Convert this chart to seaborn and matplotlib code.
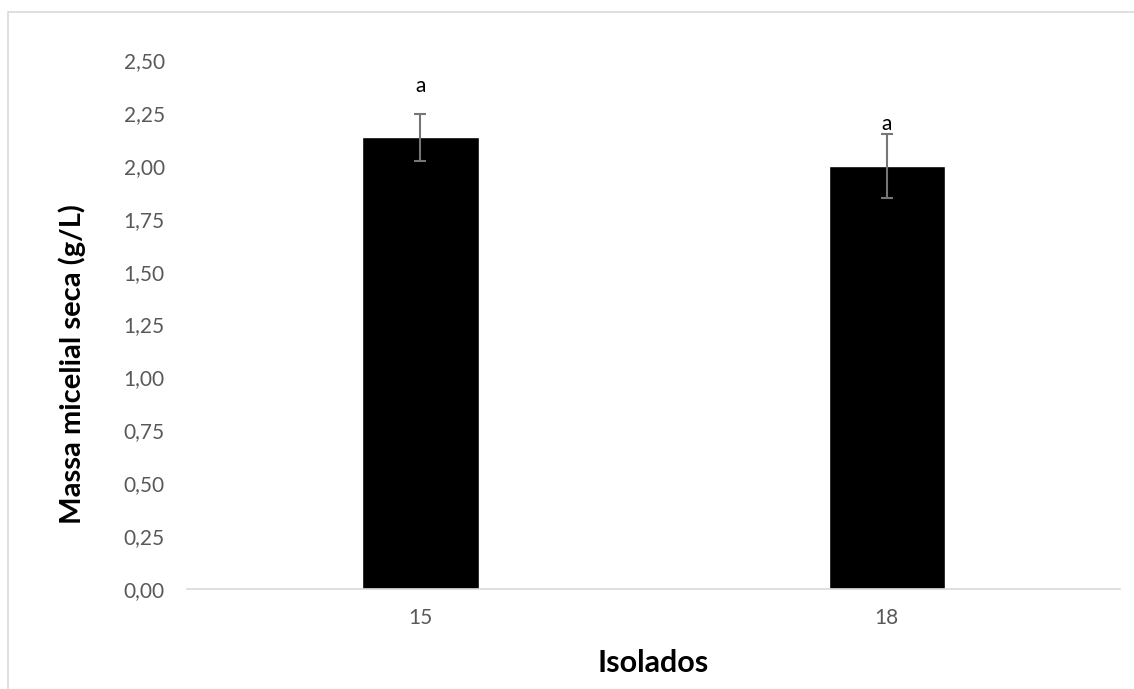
import pandas as pd
import seaborn as sns
import matplotlib.pyplot as plt
from matplotlib.patches import Rectangle

# Data
isolados = ["15", "18"]
massa = [2.135, 2.00]
erro = [0.11, 0.15]
letras = ["a", "a"]
yticks = [0.0, 0.25, 0.5, 0.75, 1.0, 1.25, 1.5, 1.75, 2.0, 2.25, 2.5]

sns.set_theme(style="white")
plt.rcParams["font.family"] = ["Lato", "DejaVu Sans"]

data = pd.DataFrame({"Isolados": isolados, "Massa": massa})

fig = plt.figure(figsize=(11.34, 6.89), dpi=100)
ax = fig.add_axes([0.165, 0.1451, 0.8227, 0.7678])

sns.barplot(data=data, x="Isolados", y="Massa", color="black", width=0.25,
            saturation=1, ax=ax)
ax.errorbar(range(len(isolados)), massa, yerr=erro, fmt="none",
            ecolor="#767676", elinewidth=1.5, capsize=4, capthick=1.5)

# letters sit a bit above the error bar caps (as placed in the original)
offsets = [13, 0]
for i, (v, e, t) in enumerate(zip(massa, erro, letras)):
    ax.annotate(t, (i, v + e), xytext=(0, offsets[i]), textcoords="offset points",
                ha="center", va="bottom", fontsize=15, color="black")

ax.set_ylim(0, 2.5)
ax.set_xlim(-0.5, 1.5)
ax.set_yticks(yticks)
ax.set_yticklabels([f"{t:.2f}".replace(".", ",") for t in yticks])
ax.tick_params(axis="both", labelsize=15, colors="#595959", length=0)
ax.tick_params(axis="y", pad=16)
ax.tick_params(axis="x", pad=14)

for s in ["top", "right", "left"]:
    ax.spines[s].set_visible(False)
ax.spines["bottom"].set_color("#d9d9d9")
ax.spines["bottom"].set_linewidth(1.2)

ax.set_xlabel("Isolados", fontsize=22, fontweight="bold", color="black", labelpad=15)
ax.set_ylabel("Massa micelial seca (g/L)", fontsize=21, fontweight="bold",
              color="black")
ax.yaxis.set_label_coords(-0.108, 0.425)

# light chart border like the original export
fig.patches.append(Rectangle((8 / 1134, -0.05), 1.1, 1 - 12 / 689 + 0.05,
                             transform=fig.transFigure, fill=False,
                             edgecolor="#d9d9d9", linewidth=1.2))

fig.savefig("out.png", dpi=100)
